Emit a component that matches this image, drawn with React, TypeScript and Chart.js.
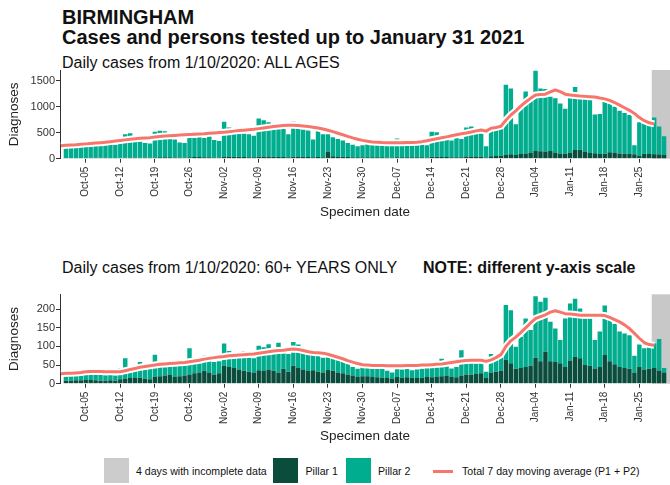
import React, { useEffect, useRef } from "react";
import { Chart, registerables } from "chart.js";

Chart.register(...registerables);

const FONT = '"Liberation Sans", Arial, Helvetica, sans-serif';
Chart.defaults.font.family = FONT;

// ---- categories / ticks ----
const firstDate = "2020-10-01"; // first bar (day 0)
const avgFirstDate = "2020-09-30"; // first point of moving average
const incompleteFrom = "2021-01-28"; // 4 days with incomplete data
const tickLabels = [
  "Oct-05", "Oct-12", "Oct-19", "Oct-26", "Nov-02", "Nov-09", "Nov-16", "Nov-23",
  "Nov-30", "Dec-07", "Dec-14", "Dec-21", "Dec-28", "Jan-04", "Jan-11", "Jan-18", "Jan-25",
];

// ---- ALL AGES ----
const allPillar1 = [
  15, 14, 12, 13, 15, 16, 18, 17, 16, 15, 14, 18, 20, 22, 20, 19, 18, 16, 25, 28, 30, 26, 24, 22, 20, 30, 32, 35, 30, 28, 25,
  24, 40, 42, 38, 36, 34, 30, 28, 38, 40, 42, 36, 34, 32, 30, 38, 40, 36, 34, 30, 32, 30, 140, 45, 40, 36, 32, 28, 26, 28,
  28, 30, 28, 26, 24, 22, 30, 28, 28, 30, 28, 26, 24, 36, 38, 34, 32, 30, 28, 30, 40, 42, 40, 38, 25, 45, 50, 55, 80, 85, 70,
  90, 100, 110, 150, 145, 140, 150, 110, 100, 95, 120, 165, 170, 140, 110, 105, 90, 95, 125, 120, 100, 95, 90, 85, 50, 95, 90, 85, 80, 70,
];
const allPillar2 = [
  200, 211, 213, 227, 240, 254, 267, 273, 274, 280, 256, 302, 450, 468, 320, 311, 282, 274, 495, 507, 500, 354, 346, 288, 280, 490, 368, 475, 370, 477, 335,
  316, 670, 558, 472, 464, 456, 440, 412, 737, 700, 658, 564, 546, 538, 440, 672, 660, 524, 506, 340, 508, 440, 330, 365, 340, 314, 268, 242, 214, 232,
  262, 270, 262, 254, 246, 228, 360, 272, 262, 270, 272, 254, 236, 484, 472, 376, 368, 320, 372, 350, 560, 578, 520, 492, 215, 555, 590, 565, 1340, 1265, 590,
  880, 1190, 1050, 1540, 1205, 1200, 1040, 1050, 960, 865, 1160, 1215, 1030, 1030, 1040, 745, 770, 1035, 935, 880, 820, 785, 750, 175, 650, 595, 590, 705, 540, 360,
];
const allAvg = [
  250,
  258, 265, 270, 278, 285, 292, 300, 308, 318, 328, 338, 350, 362, 375, 385, 392, 398, 405, 415, 425, 435, 442, 448, 455, 460, 465, 470, 475, 480, 488, 495,
  502, 510, 520, 530, 540, 548, 556, 565, 578, 592, 605, 618, 630, 640, 645, 645, 640, 630, 618, 605, 590, 570, 548, 520, 490, 460, 430, 400, 375, 352,
  335, 322, 315, 310, 308, 307, 307, 308, 310, 313, 318, 328, 345, 365, 385, 402, 420, 440, 460, 478, 495, 515, 535, 552, 530, 585, 600, 625, 740, 840, 920,
  1010, 1090, 1160, 1225, 1232, 1240, 1285, 1320, 1290, 1240, 1225, 1215, 1205, 1198, 1192, 1185, 1165, 1150, 1120, 1080, 1030, 980, 930, 870, 790, 730, 690, 670,
];
const allYTicks = [0, 500, 1000, 1500];
const allYMax = 1705;

// ---- 60+ YEARS ONLY ----
const oldPillar1 = [
  8, 8, 9, 9, 10, 10, 9, 8, 8, 9, 8, 12, 14, 15, 15, 16, 13, 12, 18, 20, 22, 25, 18, 20, 22, 25, 28, 30, 35, 30, 25,
  28, 48, 45, 42, 38, 35, 32, 30, 36, 34, 38, 35, 30, 40, 32, 48, 42, 38, 34, 36, 32, 30, 37, 35, 30, 28, 25, 22, 18, 20,
  20, 18, 17, 16, 15, 14, 18, 16, 17, 16, 15, 16, 18, 17, 18, 20, 22, 18, 17, 22, 25, 24, 26, 28, 15, 30, 32, 35, 64, 55, 40,
  42, 45, 48, 70, 60, 86, 60, 58, 55, 45, 62, 72, 68, 50, 48, 41, 45, 77, 60, 52, 45, 42, 40, 30, 45, 38, 40, 42, 35, 30,
];
const oldPillar2 = [
  12, 14, 12, 14, 14, 15, 16, 16, 15, 15, 14, 30, 54, 23, 20, 42, 25, 28, 60, 32, 33, 25, 30, 36, 30, 70, 30, 30, 40, 32, 33,
  32, 60, 43, 33, 34, 53, 38, 38, 66, 64, 68, 47, 80, 48, 48, 64, 63, 52, 54, 50, 46, 40, 43, 37, 38, 34, 33, 23, 22, 25,
  38, 27, 25, 24, 20, 16, 22, 22, 23, 20, 23, 24, 40, 25, 26, 47, 33, 23, 28, 68, 30, 32, 28, 30, 17, 50, 44, 37, 147, 142, 59,
  84, 130, 96, 165, 160, 145, 106, 90, 62, 130, 153, 156, 134, 125, 127, 76, 95, 133, 115, 108, 95, 93, 90, 45, 60, 57, 58, 66, 85, 12,
];
const oldAvg = [
  27,
  28, 28, 29, 30, 32, 33, 33, 33, 32, 32, 32, 32, 35, 38, 41, 44, 46, 48, 50, 52, 53, 54, 55, 56, 57, 59, 61, 63, 66, 68, 70,
  72, 73, 75, 76, 77, 78, 79, 80, 82, 84, 86, 88, 89, 90, 92, 93, 92, 89, 86, 84, 83, 82, 79, 75, 71, 67, 62, 58, 54, 51,
  50, 49, 49, 49, 48, 48, 48, 48, 49, 49, 49, 50, 50, 51, 52, 53, 55, 57, 59, 61, 62, 63, 63, 63, 60, 64, 70, 78, 100, 115, 125,
  137, 150, 163, 175, 180, 185, 192, 196, 192, 188, 187, 186, 184, 184, 184, 184, 184, 183, 178, 172, 166, 158, 148, 135, 122, 110, 105, 103,
];
const oldYTicks = [0, 50, 100, 150, 200];
const oldYMax = 240;

// ---- styling ----
const P1_COLOR = "#0a4d3c";
const P2_COLOR = "#00ad8e";
const AVG_COLOR = "#f7756b";
const GREY = "#c8c8c8";
const AXIS = "#333333";

const MONTHS: Record<string, number> = { Jan: 0, Oct: 9, Nov: 10, Dec: 11 };
function dayOfIso(iso: string) {
  return Math.round((Date.parse(iso) - Date.parse(firstDate)) / 864e5);
}
function dayOfTick(lbl: string) {
  const [m, d] = lbl.split("-");
  const mi = MONTHS[m];
  const y = mi >= 9 ? 2020 : 2021;
  return Math.round((Date.UTC(y, mi, Number(d)) - Date.parse(firstDate)) / 864e5);
}
const tickDays = tickLabels.map(dayOfTick);
const tickMap = new Map<number, string>(tickDays.map((d, i) => [d, tickLabels[i]]));

type PanelProps = {
  top: number;
  padTop: number;
  xHeight: number;
  p1: number[];
  p2: number[];
  avg: number[];
  yMax: number;
  yTicks: number[];
};

function Panel({ top, padTop, xHeight, p1, p2, avg, yMax, yTicks }: PanelProps) {
  const ref = useRef<HTMLCanvasElement | null>(null);
  useEffect(() => {
    if (!ref.current) return;
    const greyStart = dayOfIso(incompleteFrom) - 0.5;
    const avgStart = dayOfIso(avgFirstDate);
    const greyPlugin = {
      id: "greyBox",
      beforeDatasetsDraw(chart: any) {
        const { ctx, chartArea, scales } = chart;
        const x0 = scales.x.getPixelForValue(greyStart);
        ctx.save();
        ctx.fillStyle = GREY;
        ctx.fillRect(x0, chartArea.top, chartArea.right - x0, chartArea.bottom - chartArea.top);
        ctx.restore();
      },
    };
    const avgPts = avg.map((v, i) => ({ x: avgStart + i, y: v }));
    const chart = new Chart(ref.current, {
      type: "bar",
      data: {
        datasets: [
          {
            type: "bar",
            label: "Pillar 1",
            data: p1.map((v, i) => ({ x: i, y: v })),
            backgroundColor: P1_COLOR,
            stack: "bars",
            order: 2,
            barPercentage: 0.9,
            categoryPercentage: 1,
          },
          {
            type: "bar",
            label: "Pillar 2",
            data: p2.map((v, i) => ({ x: i, y: v })),
            backgroundColor: P2_COLOR,
            stack: "bars",
            order: 2,
            barPercentage: 0.9,
            categoryPercentage: 1,
          },
          {
            type: "line",
            label: "halo",
            data: avgPts,
            borderColor: "#ffffff",
            borderWidth: 7,
            pointRadius: 0,
            tension: 0,
            stack: "halo",
            order: 1,
            clip: 0,
            borderJoinStyle: "round",
          },
          {
            type: "line",
            label: "Total 7 day moving average (P1 + P2)",
            data: avgPts,
            borderColor: AVG_COLOR,
            borderWidth: 3,
            pointRadius: 0,
            tension: 0,
            stack: "avg",
            order: 0,
            clip: 0,
            borderJoinStyle: "round",
          },
        ] as any,
      },
      options: {
        responsive: false,
        animation: false,
        devicePixelRatio: 1,
        layout: { padding: { top: padTop, right: 0, bottom: 0, left: 0 } },
        plugins: {
          legend: { display: false },
          tooltip: { enabled: false },
          title: { display: false },
        },
        scales: {
          x: {
            type: "linear",
            min: -1.2,
            max: 122.2,
            stacked: true,
            offset: false,
            border: { display: false },
            grid: {
              display: true,
              drawOnChartArea: false,
              drawTicks: true,
              tickLength: 4,
              color: AXIS,
              offset: false,
            },
            ticks: {
              autoSkip: false,
              minRotation: 90,
              maxRotation: 90,
              padding: 4,
              color: AXIS,
              font: { size: 10, family: FONT },
              callback: (v: any) => tickMap.get(Number(v)) ?? "",
            },
            afterBuildTicks: (s: any) => {
              s.ticks = tickDays.map((v) => ({ value: v }));
            },
            afterFit: (s: any) => {
              s.height = xHeight;
            },
            title: {
              display: true,
              text: "Specimen date",
              color: "#222",
              font: { size: 13.5, family: FONT },
              padding: { top: 0, bottom: 10 },
            },
          },
          y: {
            type: "linear",
            min: 0,
            max: yMax,
            stacked: true,
            border: { display: true, color: AXIS, width: 1 },
            grid: {
              display: true,
              drawOnChartArea: false,
              drawTicks: true,
              tickLength: 4,
              color: AXIS,
            },
            ticks: {
              padding: 1,
              color: AXIS,
              font: { size: 11, family: FONT },
              callback: (v: any) => String(v),
            },
            afterBuildTicks: (s: any) => {
              s.ticks = yTicks.map((v) => ({ value: v }));
            },
            afterFit: (s: any) => {
              s.width = 60;
            },
            title: {
              display: true,
              text: "Diagnoses",
              color: "#222",
              font: { size: 13.5, family: FONT },
              padding: { top: 6.2, bottom: 0 },
            },
          },
        },
      } as any,
      plugins: [greyPlugin],
    });
    return () => chart.destroy();
  }, []);
  return (
    <canvas
      ref={ref}
      width={670}
      height={170}
      style={{ position: "absolute", left: 0, top, width: 670, height: 170 }}
    />
  );
}

function Txt({ x, y, size, bold, children }: { x: number; y: number; size: number; bold?: boolean; children: any }) {
  return (
    <div
      style={{
        position: "absolute",
        left: x,
        top: y,
        fontSize: size,
        lineHeight: 1,
        fontWeight: bold ? "bold" : "normal",
        whiteSpace: "nowrap",
        color: "#111",
      }}
    >
      {children}
    </div>
  );
}

export default function App() {
  return (
    <div
      style={{
        position: "absolute",
        left: 0,
        top: 0,
        width: 670,
        height: 485,
        background: "#fff",
        overflow: "hidden",
        fontFamily: FONT,
      }}
    >
      <Txt x={62} y={7} size={20} bold>BIRMINGHAM</Txt>
      <Txt x={62} y={27} size={20} bold>Cases and persons tested up to January 31 2021</Txt>
      <Txt x={62} y={54.5} size={16}>Daily cases from 1/10/2020: ALL AGES</Txt>
      <Panel top={60} padTop={10} xHeight={71.3} p1={allPillar1} p2={allPillar2} avg={allAvg} yMax={allYMax} yTicks={allYTicks} />
      <Txt x={62} y={260} size={16}>Daily cases from 1/10/2020: 60+ YEARS ONLY</Txt>
      <Txt x={423} y={260} size={16} bold>NOTE: different y-axis scale</Txt>
      <Panel top={284} padTop={10.3} xHeight={70.3} p1={oldPillar1} p2={oldPillar2} avg={oldAvg} yMax={oldYMax} yTicks={oldYTicks} />

      <div style={{ position: "absolute", left: 104, top: 458, width: 25, height: 25, background: "#cccccc" }} />
      <Txt x={136} y={465.8} size={10.6}>4 days with incomplete data</Txt>
      <div style={{ position: "absolute", left: 273, top: 458, width: 25, height: 25, background: P1_COLOR }} />
      <Txt x={305.5} y={465.8} size={10.6}>Pillar 1</Txt>
      <div style={{ position: "absolute", left: 345.5, top: 458, width: 25, height: 25, background: P2_COLOR }} />
      <Txt x={378} y={465.8} size={10.6}>Pillar 2</Txt>
      <div style={{ position: "absolute", left: 432.5, top: 469.5, width: 20, height: 3, background: AVG_COLOR }} />
      <Txt x={462} y={465.8} size={10.6}>Total 7 day moving average (P1 + P2)</Txt>
    </div>
  );
}
